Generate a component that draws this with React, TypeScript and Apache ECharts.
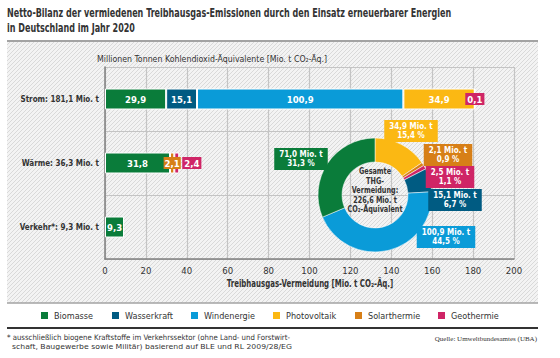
import React, { useEffect, useRef } from "react";
import * as echarts from "echarts";

// ---- Data ----
const sectors = ["Strom", "Wärme", "Verkehr*"];
const sectorTotals = [181.1, 36.3, 9.3];
const biomasse = [29.9, 31.8, 9.3];
const wasserkraft = [15.1, null, null];
const windenergie = [100.9, null, null];
const photovoltaik = [34.9, null, null];
const solarthermie = [null, 2.1, null];
const geothermie = [0.1, 2.4, null];
const gesamtVermeidung = 226.6;
const xTicks = [0, 20, 40, 60, 80, 100, 120, 140, 160, 180, 200];

const energyNames = ["Biomasse", "Wasserkraft", "Windenergie", "Photovoltaik", "Solarthermie", "Geothermie"];
const energyColors: Record<string, string> = {
  Biomasse: "#0a7c3a",
  Wasserkraft: "#005b82",
  Windenergie: "#0a9bd8",
  Photovoltaik: "#fbb813",
  Solarthermie: "#d77f17",
  Geothermie: "#cf2566",
};
const donutOrder = ["Photovoltaik", "Solarthermie", "Geothermie", "Wasserkraft", "Windenergie", "Biomasse"];

const FONT = "'Liberation Sans Narrow', 'DejaVu Sans Condensed', Roboto, sans-serif";
const TXT = "#333333";

const fmt = (v: number) => v.toFixed(1).replace(".", ",");

export default function App() {
  const ref = useRef<HTMLDivElement>(null);
  useEffect(() => {
    document.body.style.margin = "0";
    const chart = echarts.init(ref.current!, undefined, { renderer: "svg" });

    const seriesData: Record<string, (number | null)[]> = {
      Biomasse: biomasse,
      Wasserkraft: wasserkraft,
      Windenergie: windenergie,
      Photovoltaik: photovoltaik,
      Solarthermie: solarthermie,
      Geothermie: geothermie,
    };

    const barSeries = energyNames.map((name) => ({
      name,
      type: "bar",
      stack: "total",
      barWidth: 21,
      itemStyle: { color: energyColors[name], borderColor: "#fff", borderWidth: 1 },
      data: seriesData[name].map((v, i) => {
        if (v == null) return null;
        const item: any = { value: v };
        if (name === "Solarthermie") {
          item.label = { backgroundColor: energyColors[name], padding: [1, 1] };
        }
        if (name === "Geothermie") {
          item.label =
            i === 0
              ? { position: "inside", backgroundColor: energyColors[name], padding: [1, 2] }
              : { position: "right", distance: 3, backgroundColor: energyColors[name], padding: [1, 2] };
        }
        return item;
      }),
      label: {
        show: true,
        position: "inside",
        color: "#fff",
        fontFamily: FONT,
        fontWeight: "bold",
        fontSize: 9.5,
        formatter: (p: any) => fmt(p.value),
      },
    }));

    const sumOf = (arr: (number | null)[]) => arr.reduce((a: number, b) => a + (b ?? 0), 0);
    const labelPos: Record<string, [number, number]> = {
      Photovoltaik: [411, 131],
      Solarthermie: [448, 155],
      Geothermie: [450, 177],
      Wasserkraft: [455, 200],
      Windenergie: [446, 237],
      Biomasse: [301, 159],
    };

    const pieData = donutOrder.map((name) => ({
      name,
      value: Math.round(sumOf(seriesData[name]) * 10) / 10,
      itemStyle: { color: energyColors[name] },
      label: { backgroundColor: energyColors[name] },
    }));

    const hatch =
      "data:image/svg+xml;utf8," +
      encodeURIComponent(
        "<svg xmlns='http://www.w3.org/2000/svg' width='4' height='4'><rect width='4' height='4' fill='#f3f3f3'/><path d='M-1,1 L1,-1 M0,4 L4,0 M3,5 L5,3' stroke='#d6d6d6' stroke-width='0.9'/></svg>"
      );

    const legends = energyNames.map((name, i) => ({
      data: [name],
      left: [39, 110, 189, 271, 353, 436][i],
      top: 310,
      padding: 0,
      itemWidth: 9,
      itemHeight: 9,
      icon: "rect",
      selectedMode: false,
      textStyle: { fontFamily: FONT, fontSize: 9, color: TXT, fontWeight: 500 },
    }));

    const scaledText = (x: number, y: number, text: string, opts: any, sx: number, z = 10) => ({
      type: "text",
      x,
      y,
      scaleX: sx,
      z,
      silent: true,
      style: { text, fontFamily: FONT, fill: TXT, verticalAlign: "middle", ...opts },
    });

    chart.setOption({
      animation: false,
      backgroundColor: "#fff",
      textStyle: { fontFamily: FONT },
      grid: { left: 105, right: 46, top: 67, bottom: 99, containLabel: false },
      legend: legends,
      xAxis: {
        type: "value",
        min: xTicks[0],
        max: xTicks[xTicks.length - 1],
        interval: xTicks[1] - xTicks[0],
        axisLine: { show: true, lineStyle: { color: "#808080", width: 1.5 } },
        axisTick: { show: false },
        axisLabel: { fontFamily: FONT, fontSize: 9.5, color: TXT, margin: 6, fontWeight: 500 },
        splitLine: { show: true, lineStyle: { color: "#c4c4c4", width: 1.2 } },
      },
      yAxis: {
        type: "category",
        data: sectors,
        inverse: true,
        axisLine: { show: true, lineStyle: { color: "#808080", width: 1.5 } },
        axisTick: { show: false },
        splitLine: { show: true, lineStyle: { color: "#c4c4c4", width: 1.2 } },
        axisLabel: {
          fontFamily: FONT,
          fontSize: 8,
          fontWeight: "bold",
          color: TXT,
          margin: 6,
          formatter: (v: string) => `${v}: ${fmt(sectorTotals[sectors.indexOf(v)])} Mio. t`,
        },
      },
      series: [
        ...barSeries,
        {
          type: "pie",
          name: "Gesamt",
          center: [375, 195],
          radius: [33, 57],
          startAngle: 90,
          clockwise: true,
          avoidLabelOverlap: false,
          itemStyle: { borderColor: "#fff", borderWidth: 0.5 },
          data: pieData,
          labelLine: { show: false },
          emphasis: { disabled: true },
          label: {
            show: true,
            color: "#fff",
            fontFamily: FONT,
            fontWeight: "bold",
            fontSize: 8,
            lineHeight: 9.5,
            align: "center",
            padding: [2, 5, 1, 5],
            formatter: (p: any) =>
              `${fmt(p.value)} Mio. t\n${fmt((p.value / gesamtVermeidung) * 100)} %`,
          },
          labelLayout: (params: any) => {
            const name = donutOrder[params.dataIndex];
            const pos = labelPos[name];
            return { x: pos[0], y: pos[1], align: "center", verticalAlign: "middle" };
          },
        },
      ],
      graphic: [
        {
          type: "rect",
          z: -10,
          silent: true,
          shape: { x: 7, y: 41, width: 531, height: 262 },
          style: { fill: { image: hatch, repeat: "repeat", imageWidth: 4, imageHeight: 4 } as any },
        },
        {
          type: "line",
          z: -5,
          silent: true,
          shape: { x1: 7, y1: 41, x2: 538, y2: 41 },
          style: { stroke: "#a3a3a3", lineWidth: 2 },
        },
        {
          type: "line",
          z: -5,
          silent: true,
          shape: { x1: 7, y1: 303, x2: 538, y2: 303 },
          style: { stroke: "#a3a3a3", lineWidth: 1.5 },
        },
        {
          type: "line",
          silent: true,
          shape: { x1: 7, y1: 328, x2: 538, y2: 328 },
          style: { stroke: "#333", lineWidth: 2 },
        },
        scaledText(
          7,
          12.5,
          "Netto-Bilanz der vermiedenen Treibhausgas-Emissionen durch den Einsatz erneuerbarer Energien",
          { fontWeight: "bold", fontSize: 12 },
          0.745
        ),
        scaledText(7, 27, "in Deutschland im Jahr 2020", { fontWeight: "bold", fontSize: 12 }, 0.745),
        scaledText(
          97,
          59,
          "Millionen Tonnen Kohlendioxid-Äquivalente [Mio. t CO₂-Äq.]",
          { fontSize: 9.5 },
          0.92
        ),
        scaledText(310, 284, "Treibhausgas-Vermeidung [Mio. t CO₂-Äq.]", { fontWeight: "bold", fontSize: 10, align: "center" }, 0.78),
        {
          type: "text",
          x: 375,
          y: 190,
          z: 100,
          scaleX: 0.8,
          silent: true,
          style: {
            text: "Gesamte\nTHG-\nVermeidung:\n" + fmt(gesamtVermeidung) + " Mio. t\nCO₂-Äquivalent",
            fontFamily: FONT,
            fontWeight: "bold",
            fontSize: 9,
            lineHeight: 9.5,
            fill: TXT,
            align: "center",
            verticalAlign: "middle",
          },
        },
        scaledText(7, 338, "* ausschließlich biogene Kraftstoffe im Verkehrssektor (ohne Land- und Forstwirt-", { fontSize: 7.6 }, 1.02),
        scaledText(12, 346, "schaft, Baugewerbe sowie Militär) basierend auf BLE und RL 2009/28/EG", { fontSize: 7.6 }, 1.13),
        {
          type: "text",
          x: 537,
          y: 339,
          silent: true,
          style: {
            text: "Quelle: Umweltbundesamtes (UBA)",
            fontFamily: "'Liberation Serif', 'DejaVu Serif', serif",
            fontSize: 7,
            fill: TXT,
            align: "right",
            verticalAlign: "middle",
          },
        },
      ],
    });
    return () => chart.dispose();
  }, []);
  return <div ref={ref} style={{ position: "fixed", left: 0, top: 0, width: 560, height: 358 }} />;
}
